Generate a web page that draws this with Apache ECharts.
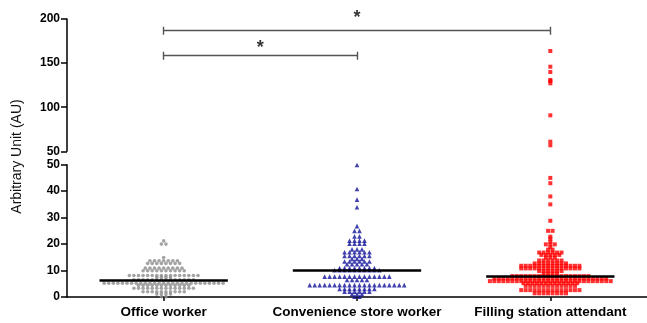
<!DOCTYPE html>
<html>
<head>
<meta charset="utf-8">
<script src="https://cdn.jsdelivr.net/npm/echarts@6/dist/echarts.min.js"></script>
<style>
  html, body { margin: 0; padding: 0; background: #fff; }
  #chart { width: 647px; height: 323px; }
</style>
</head>
<body>
<div id="chart"></div>
<script>
const categories = ["Office worker", "Convenience store worker", "Filling station attendant"];

// each group = rows of dots: the value of a row and how many dots sit in it
const officeValues = [21.2, 20, 14.9, 13.7, 12.7, 10.9, 9.9, 8.1, 7.4, 6.5, 5.2, 4.4, 3.3, 2.0, 1.1, 0.1];
const officeCounts = [1, 2, 1, 7, 8, 9, 10, 16, 4, 14, 27, 12, 14, 10, 4, 2];

const storeValues = [49.9, 40.8, 36.8, 33.9, 26.8, 25, 22.9, 21.3, 20.1, 18, 16.9, 15.5, 14.4, 13.4, 12.4,
  10.9, 10.1, 7.7, 6.4, 4.5, 3.0, 2.0, 1.1, 0.1];
const storeCounts = [1, 1, 1, 1, 1, 2, 2, 4, 4, 3, 6, 6, 3, 6, 5,
  8, 10, 14, 5, 20, 8, 6, 3, 2];

const stationValues = [163.7, 145.9, 139.9, 130.9, 129.7, 127.1, 90.8, 60.9, 56.8,
  45, 43, 38, 35, 28.8, 25, 22.8, 22, 20.9, 19.9, 18.8, 17.9, 16.8, 15.9, 14.9, 13.8,
  12.7, 11.8, 10.8, 9.8, 8.9, 7.9, 7.0, 6.0, 5.2, 4.2, 2.6, 1.4];
const stationCounts = [1, 1, 1, 1, 1, 1, 1, 1, 1,
  1, 1, 1, 1, 1, 2, 1, 1, 1, 3, 1, 2, 6, 5, 3, 6,
  8, 14, 14, 6, 4, 18, 26, 28, 13, 12, 14, 8];

// broken y axis: upper and lower segment
const upperTicks = [50, 100, 150, 200];
const lowerTicks = [0, 10, 20, 30, 40, 50];

// significance brackets: [from group, to group, height], star above
const brackets = [[0, 2, 186.7], [0, 1, 158.4]];
const stars = [[1, 200.6], [0.5, 166.6]];

const GRID_LEFT = 67;
const GRID_RIGHT = -3;
const chart = echarts.init(document.getElementById("chart"));
const plotW = chart.getWidth() - GRID_LEFT - GRID_RIGHT;
const unitPerPx = categories.length / plotW;
const BREAK = upperTicks[0];

// prism-like dot plot: dots of one row side by side, centred on the group
function swarm(group, values, counts, spacing, upper) {
  const pts = [];
  values.forEach((v, i) => {
    if ((v > BREAK) !== upper) return;
    const n = counts[i];
    for (let k = 0; k < n; k++) {
      pts.push([group + (k - (n - 1) / 2) * spacing * unitPerPx, v]);
    }
  });
  return pts;
}

function median(values, counts) {
  const all = [];
  values.forEach((v, i) => { for (let k = 0; k < counts[i]; k++) all.push(v); });
  all.sort((a, b) => a - b);
  const m = Math.floor(all.length / 2);
  return all.length % 2 ? all[m] : (all[m - 1] + all[m]) / 2;
}

const medians = [
  median(officeValues, officeCounts),
  median(storeValues, storeCounts),
  median(stationValues, stationCounts),
];
const halfLine = 64.5 * unitPerPx;

const bracketData = [];
brackets.forEach(([a, b, h]) => {
  bracketData.push({ coords: [[a, h], [b, h]] });
  bracketData.push({ coords: [[a, h - 4.5], [a, h + 4.5]] });
  bracketData.push({ coords: [[b, h - 4.5], [b, h + 4.5]] });
});

const FONT = "Liberation Sans, Arial, sans-serif";
const axisBlack = { show: true, onZero: false, lineStyle: { color: "#000", width: 1.5 } };
const tickBlack = { show: true, length: 6, lineStyle: { color: "#000", width: 1.5 } };
const labelBold = { color: "#000", fontSize: 12, fontWeight: "bold", fontFamily: FONT };

const hiddenX = (gridIndex) => ({
  type: "value", gridIndex: gridIndex, position: "top", show: false,
  min: -0.5, max: categories.length - 0.5,
});

const option = {
  animation: false,
  backgroundColor: "#fff",
  grid: [
    { left: GRID_LEFT, right: GRID_RIGHT, top: 19, height: 132.3 },
    { left: GRID_LEFT, right: GRID_RIGHT, top: 164.7, height: 132.3 },
  ],
  xAxis: [
    hiddenX(0),
    hiddenX(1),
    {
      type: "category", gridIndex: 1, position: "bottom", data: categories,
      axisLine: axisBlack,
      axisTick: { show: true, alignWithLabel: true, length: 4, lineStyle: { color: "#000", width: 1.5 } },
      axisLabel: { margin: 8, interval: 0, color: "#000", fontSize: 13.5, fontWeight: "bold", fontFamily: FONT },
      splitLine: { show: false },
    },
  ],
  yAxis: [
    {
      type: "value", gridIndex: 0,
      min: upperTicks[0], max: upperTicks[upperTicks.length - 1], interval: upperTicks[1] - upperTicks[0],
      axisLine: axisBlack, axisTick: tickBlack, splitLine: { show: false },
      axisLabel: Object.assign({ margin: 7 }, labelBold),
    },
    {
      type: "value", gridIndex: 1,
      min: lowerTicks[0], max: lowerTicks[lowerTicks.length - 1], interval: lowerTicks[1] - lowerTicks[0],
      axisLine: axisBlack, axisTick: tickBlack, splitLine: { show: false },
      axisLabel: Object.assign({ margin: 7 }, labelBold),
    },
  ],
  graphic: [{
    type: "text", x: 17.5, y: 156.5, rotation: Math.PI / 2,
    style: {
      text: "Arbitrary Unit (AU)", fill: "#111", font: "14px " + FONT,
      textAlign: "center", textVerticalAlign: "middle",
    },
  }],
  series: [
    {
      type: "scatter", xAxisIndex: 1, yAxisIndex: 1, symbol: "circle", symbolSize: 3.6,
      itemStyle: { color: "#8c8c8c" }, data: swarm(0, officeValues, officeCounts, 4.6, false),
    },
    {
      type: "scatter", xAxisIndex: 1, yAxisIndex: 1, symbol: "triangle", symbolSize: 4.6,
      itemStyle: { color: "#12129a" }, data: swarm(1, storeValues, storeCounts, 5, false),
    },
    {
      type: "scatter", xAxisIndex: 1, yAxisIndex: 1, symbol: "rect", symbolSize: 4,
      itemStyle: { color: "#ff0000" }, data: swarm(2, stationValues, stationCounts, 4.5, false),
    },
    {
      type: "scatter", xAxisIndex: 0, yAxisIndex: 0, symbol: "rect", symbolSize: 4,
      itemStyle: { color: "#ff0000" }, data: swarm(2, stationValues, stationCounts, 4.5, true),
    },
    {
      type: "lines", coordinateSystem: "cartesian2d", xAxisIndex: 1, yAxisIndex: 1, z: 5,
      lineStyle: { color: "#000", width: 2.5, opacity: 1 },
      data: medians.map((m, i) => ({ coords: [[i - halfLine, m], [i + halfLine, m]] })),
    },
    {
      type: "lines", coordinateSystem: "cartesian2d", xAxisIndex: 0, yAxisIndex: 0,
      lineStyle: { color: "#555", width: 1.4, opacity: 1 },
      data: bracketData,
    },
    {
      type: "scatter", xAxisIndex: 0, yAxisIndex: 0, symbolSize: 0, clip: false,
      label: {
        show: true, position: "inside", formatter: "*", color: "#000",
        fontSize: 18, fontWeight: "bold", fontFamily: FONT,
      },
      data: stars,
    },
  ],
};

chart.setOption(option);
</script>
</body>
</html>
